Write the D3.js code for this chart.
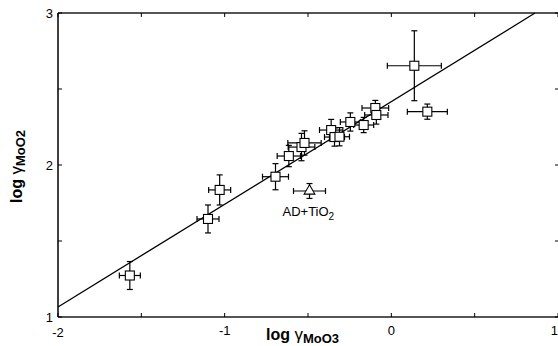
<!DOCTYPE html>
<html>
<head>
<meta charset="utf-8">
<script src="https://cdn.jsdelivr.net/npm/d3@7"></script>
<style>
  body { margin: 0; background: #fff; }
  svg { display: block; font-family: "Liberation Sans", Arial, sans-serif; }
</style>
</head>
<body>
<svg id="chart"></svg>
<script>
// log gamma MoO3 (x) vs log gamma MoO2 (y), with error half-widths
const xVals = [-1.569, -1.100, -1.030, -0.695, -0.615, -0.539, -0.521, -0.361, -0.341, -0.311, -0.246, -0.166, -0.096, -0.090, 0.138, 0.216];
const yVals = [1.273, 1.645, 1.836, 1.923, 2.059, 2.118, 2.145, 2.230, 2.184, 2.186, 2.283, 2.263, 2.375, 2.329, 2.653, 2.351];
const xErr  = [0.063, 0.066, 0.066, 0.078, 0.070, 0.080, 0.100, 0.070, 0.060, 0.060, 0.060, 0.060, 0.080, 0.070, 0.162, 0.120];
const yErr  = [0.092, 0.092, 0.099, 0.086, 0.070, 0.090, 0.080, 0.070, 0.060, 0.060, 0.060, 0.050, 0.050, 0.060, 0.230, 0.050];

// AD+TiO2 sample (triangle)
const triX = [-0.491];
const triY = [1.829];
const triXErr = [0.096];
const triYErr = [0.049];

// fitted line end points
const fitX = [-2, 0.862];
const fitY = [1.066, 3];

const xTicks = [-2, -1.5, -1, -0.5, 0, 0.5, 1];
const xLabels = [-2, -1, 0, 1];
const yTicks = [1, 1.5, 2, 2.5, 3];
const yLabels = [1, 2, 3];

const width = 558;
const height = 346;
const padL = 58, padR = 558, padT = 13, padB = 317;

const svg = d3.select('#chart').attr('width', width).attr('height', height);

const xScale = d3.scaleLinear().domain([-2, 1]).range([padL, padR]);
const yScale = d3.scaleLinear().domain([1, 3]).range([padB, padT]);

const points = xVals.map((x, i) => ({ x, y: yVals[i], ex: xErr[i], ey: yErr[i] }));
const tri = triX.map((x, i) => ({ x, y: triY[i], ex: triXErr[i], ey: triYErr[i] }));

// frame
svg.append('line').attr('x1', padL).attr('x2', padR).attr('y1', padT).attr('y2', padT)
  .attr('stroke', '#555').attr('stroke-width', 2);
svg.append('line').attr('x1', padL).attr('x2', padR).attr('y1', padB).attr('y2', padB)
  .attr('stroke', '#555').attr('stroke-width', 2);
svg.append('line').attr('x1', padL).attr('x2', padL).attr('y1', padT).attr('y2', padB)
  .attr('stroke', '#000').attr('stroke-width', 1.5);

// inward ticks
const tickLen = 4;
const tk = svg.append('g').attr('stroke', '#000').attr('stroke-width', 1);
xTicks.forEach(t => {
  tk.append('line').attr('x1', xScale(t)).attr('x2', xScale(t)).attr('y1', padB).attr('y2', padB - tickLen);
  tk.append('line').attr('x1', xScale(t)).attr('x2', xScale(t)).attr('y1', padT).attr('y2', padT + tickLen);
});
yTicks.forEach(t => {
  tk.append('line').attr('x1', padL).attr('x2', padL + tickLen).attr('y1', yScale(t)).attr('y2', yScale(t));
  tk.append('line').attr('x1', padR - 3).attr('x2', padR).attr('y1', yScale(t)).attr('y2', yScale(t));
});

// tick labels
svg.append('g').selectAll('text').data(xLabels).enter().append('text')
  .attr('x', d => d === 1 ? xScale(d) : xScale(d))
  .attr('y', d => d === -2 ? 337 : 335)
  .attr('text-anchor', d => d === 1 ? 'end' : 'middle')
  .attr('font-size', 13)
  .text(d => d);
svg.append('g').selectAll('text').data(yLabels).enter().append('text')
  .attr('x', 53).attr('y', d => yScale(d) + 5)
  .attr('text-anchor', 'end').attr('font-size', 13)
  .text(d => d);

// fit line
svg.append('line')
  .attr('x1', xScale(fitX[0])).attr('y1', yScale(fitY[0]))
  .attr('x2', xScale(fitX[1])).attr('y2', yScale(fitY[1]))
  .attr('stroke', '#000').attr('stroke-width', 1.3);

function errorBars(g, data) {
  const cap = 3;
  const eb = g.selectAll(null).data(data).enter().append('g')
    .attr('stroke', '#000').attr('stroke-width', 1.2);
  eb.append('line')
    .attr('x1', d => xScale(d.x - d.ex)).attr('x2', d => xScale(d.x + d.ex))
    .attr('y1', d => yScale(d.y)).attr('y2', d => yScale(d.y));
  eb.append('line')
    .attr('x1', d => xScale(d.x)).attr('x2', d => xScale(d.x))
    .attr('y1', d => yScale(d.y - d.ey)).attr('y2', d => yScale(d.y + d.ey));
  eb.append('line')
    .attr('x1', d => xScale(d.x - d.ex)).attr('x2', d => xScale(d.x - d.ex))
    .attr('y1', d => yScale(d.y) - cap).attr('y2', d => yScale(d.y) + cap);
  eb.append('line')
    .attr('x1', d => xScale(d.x + d.ex)).attr('x2', d => xScale(d.x + d.ex))
    .attr('y1', d => yScale(d.y) - cap).attr('y2', d => yScale(d.y) + cap);
  eb.append('line')
    .attr('x1', d => xScale(d.x) - cap).attr('x2', d => xScale(d.x) + cap)
    .attr('y1', d => yScale(d.y - d.ey)).attr('y2', d => yScale(d.y - d.ey));
  eb.append('line')
    .attr('x1', d => xScale(d.x) - cap).attr('x2', d => xScale(d.x) + cap)
    .attr('y1', d => yScale(d.y + d.ey)).attr('y2', d => yScale(d.y + d.ey));
}

const marks = svg.append('g');
errorBars(marks, points);
errorBars(marks, tri);

marks.selectAll('.sq').data(points).enter().append('rect')
  .attr('class', 'sq')
  .attr('x', d => xScale(d.x) - 4.5).attr('y', d => yScale(d.y) - 4.5)
  .attr('width', 9).attr('height', 9)
  .attr('fill', '#fff').attr('stroke', '#000').attr('stroke-width', 1.1);

marks.selectAll('.tri').data(tri).enter().append('path')
  .attr('class', 'tri')
  .attr('transform', d => `translate(${xScale(d.x)},${yScale(d.y)})`)
  .attr('d', d3.symbol(d3.symbolTriangle, 50)())
  .attr('fill', '#fff').attr('stroke', '#000').attr('stroke-width', 1.1);

// annotation
const ann = svg.append('text')
  .attr('x', xScale(triX[0]) - 27).attr('y', 216)
  .attr('font-size', 13);
ann.append('tspan').text('AD+TiO');
ann.append('tspan').attr('dy', 4).attr('font-size', 10).text('2');

// axis titles
const xt = svg.append('text')
  .attr('x', 266).attr('y', 340)
  .attr('font-size', 16).attr('font-weight', 'bold');
xt.append('tspan').text('log ');
xt.append('tspan').attr('font-weight', 'normal').attr('font-size', 17).text('γ');
xt.append('tspan').attr('dy', 3).attr('font-size', 13).text('MoO3');

const yt = svg.append('text')
  .attr('transform', 'translate(22,203) rotate(-90)')
  .attr('font-size', 16).attr('font-weight', 'bold');
yt.append('tspan').text('log ');
yt.append('tspan').attr('font-weight', 'normal').attr('font-size', 17).text('γ');
yt.append('tspan').attr('dy', 3).attr('font-size', 13).text('MoO2');
</script>
</body>
</html>
